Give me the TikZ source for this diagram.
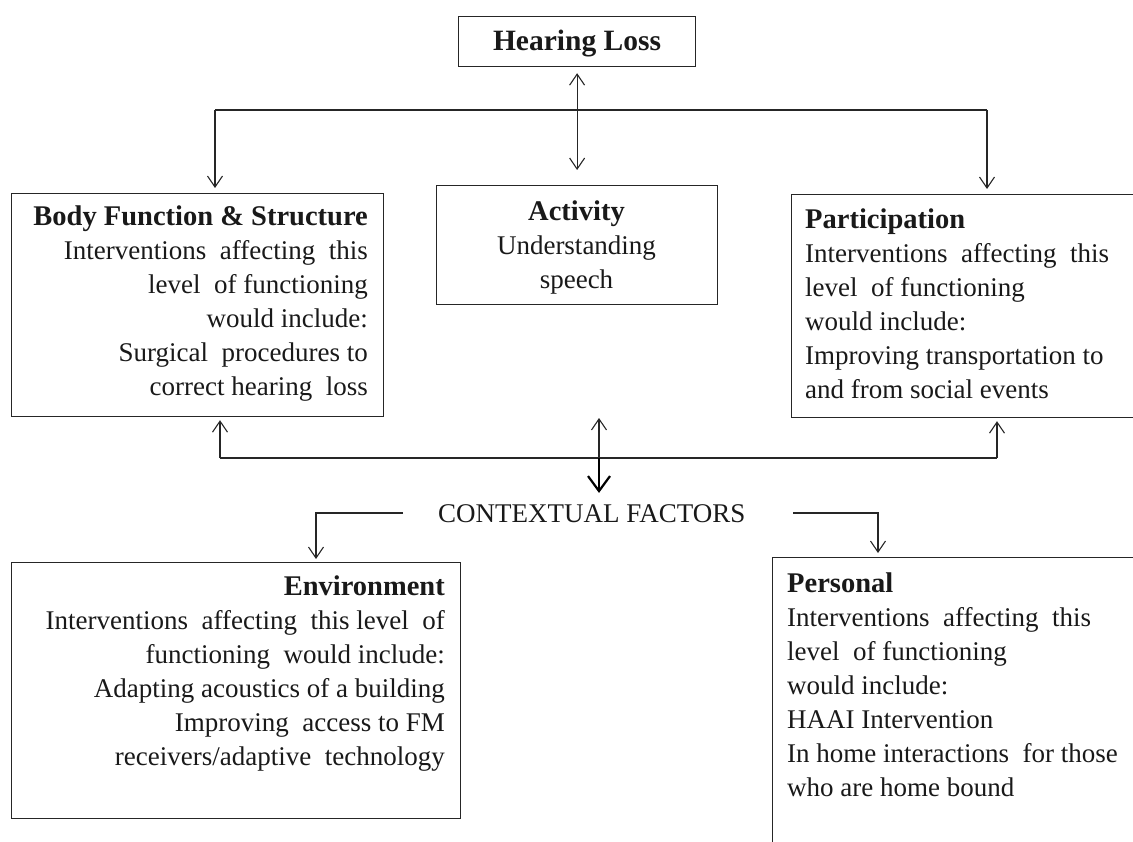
\documentclass[tikz,border=0pt]{standalone}
\usepackage{fontspec}
\setmainfont{Liberation Serif}
\usetikzlibrary{arrows.meta,calc}
\newcommand{\hdtext}[1]{{\fontsize{28.5}{34}\selectfont\bfseries #1}}
\begin{document}
\begin{tikzpicture}[x=1pt,y=-1pt,
  box/.style={draw=black!85, line width=1.2pt, anchor=north west, inner sep=0pt},
  txt/.style={inner sep=0pt, font=\fontsize{27}{34}\selectfont, text=black!90},
  conn/.style={draw=black!85, line width=1.1pt},
  arr/.style={conn, -{Straight Barb[length=11pt,width=15pt,line width=1.1pt]}},
  darr/.style={conn, {Straight Barb[length=11pt,width=15pt,line width=1.1pt]}-{Straight Barb[length=11pt,width=15pt,line width=1.1pt]}},
  boldarr/.style={draw=black, line width=2.2pt, -{Straight Barb[length=15pt,width=22pt,line width=2.2pt]}}
]
\useasboundingbox (0,0) rectangle (1133,842);

% boxes
\node[box, minimum width=237pt, minimum height=50pt] (hl) at (458,16) {};
\node[box, minimum width=372pt, minimum height=223pt] (body) at (11,193) {};
\node[box, minimum width=281pt, minimum height=119pt] (act) at (436,185) {};
\node[box, minimum width=350pt, minimum height=223pt] (part) at (791,194) {};
\node[box, minimum width=449pt, minimum height=256pt] (env) at (11,562) {};
\node[box, minimum width=368pt, minimum height=300pt] (pers) at (772,557) {};

% texts
\node[txt, anchor=base, font=\fontsize{29.5}{34}\selectfont\bfseries] (hlt) at (577,51) {Hearing Loss};
\node[txt, anchor=north east, align=right] (bodyt) at (368,206) {\hdtext{Body Function \& Structure}\\Interventions\ \ affecting\ \ this\\level\ \ of functioning\\would include:\\Surgical\ \ procedures to\\correct hearing\ \ loss};
\node[txt, anchor=north, align=center] (actt) at (576.5,201) {\hdtext{Activity}\\Understanding\\speech};
\node[txt, anchor=north west, align=left] (partt) at (805,209) {\hdtext{Participation}\\Interventions\ \ affecting\ \ this\\level\ \ of functioning\\would include:\\Improving transportation to\\and from social events};
\node[txt, anchor=north east, align=right] (envt) at (445,576) {\hdtext{Environment}\\Interventions\ \ affecting\ \ this level\ \ of\\functioning\ \ would include:\\Adapting acoustics of a building\\Improving\ \ access to FM\\receivers/adaptive\ \ technology};
\node[txt, anchor=north west, align=left] (perst) at (787,573) {\hdtext{Personal}\\Interventions\ \ affecting\ \ this\\level\ \ of functioning\\would include:\\HAAI Intervention\\In home interactions\ \ for those\\who are home bound};
\node[txt, anchor=base west] (cf) at (438,522) {CONTEXTUAL FACTORS};

% top connectors
\coordinate (tl) at (215,110);
\coordinate (tr) at (987,110);
\draw[conn] (tl) -- (tr);
\draw[arr] (tl) -- ([yshift=5pt]tl |- body.north);
\draw[arr] (tr) -- ([yshift=5pt]tr |- part.north);
\draw[darr] ([yshift=-6pt]hl.south) -- ([yshift=15pt]act.north);

% bottom connectors
\coordinate (bl) at (220,458);
\coordinate (bm) at (599,458);
\coordinate (br) at (997,458);
\coordinate (bmtop) at (599,418);
\draw[conn] (bl) -- (br);
\draw[arr] (bl) -- ([yshift=-3pt]bl |- body.south);
\draw[arr] (bm) -- (bmtop);
\draw[arr] (br) -- ([yshift=-3pt]br |- part.south);
\draw[boldarr] (bm) -- ([yshift=11pt]bm |- cf.north);

% contextual factors brackets
\coordinate (ls) at (403,513);
\coordinate (lb) at (316,513);
\coordinate (rs) at (793,513);
\coordinate (rb) at (878,513);
\draw[arr] (ls) -- (lb) -- ([yshift=3pt]lb |- env.north);
\draw[arr] (rs) -- (rb) -- ([yshift=4pt]rb |- pers.north);
\end{tikzpicture}
\end{document}
